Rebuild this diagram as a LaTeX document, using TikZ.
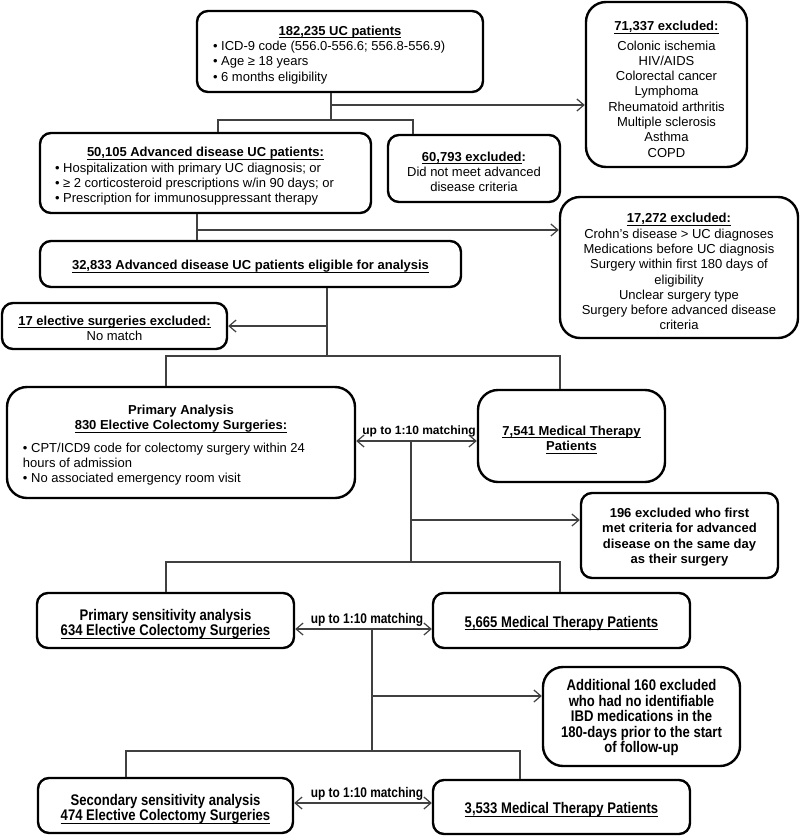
\documentclass[tikz,border=0pt]{standalone}
\usepackage{fontspec}
\setmainfont{Liberation Sans}
\newfontfamily\nf[FakeStretch=0.85]{Liberation Sans}
\usetikzlibrary{arrows.meta}
\newsavebox\myulbox
\newcommand{\myul}[1]{\sbox\myulbox{#1}\rlap{\vrule width\wd\myulbox height -2pt depth 3pt}\usebox\myulbox}
\newcommand{\st}[1]{\rule{0pt}{#1pt}}
\newcommand{\fs}{\fontsize{13}{15.3}\selectfont}
\newcommand{\nfs}{\nf\fontsize{15.4}{15.5}\selectfont}
\tikzset{
  box/.style={draw=black, line width=2.4pt, rounded corners=11pt, inner sep=0pt, align=center, font=\fs},
  bigr/.style={rounded corners=20pt},
  sz/.style 2 args={minimum width=#1pt, minimum height=#2pt},
  conn/.style={draw=black!75, line width=1.2pt},
  arr/.style={conn, -{Straight Barb[length=7pt,width=12pt]}},
  darr/.style={conn, {Straight Barb[length=7pt,width=12pt]}-{Straight Barb[length=7pt,width=12pt]}},
  lbl/.style={inner sep=0pt, font=\fontsize{12}{14}\selectfont\bfseries},
  nlbl/.style={inner sep=0pt, font=\nf\fontsize{14}{16}\selectfont\bfseries},
}
\begin{document}
\begin{tikzpicture}[x=1pt,y=-1pt]
\useasboundingbox (0,0) rectangle (800,836);
\fill[white] (0,0) rectangle (800,836);

% boxes
\node[box, sz={286}{81}] (b1) at (340,51.5) {\st{16}\textbf{\myul{182,235 UC patients}}\\
  \parbox[t]{254pt}{• ICD-9 code (556.0-556.6; 556.8-556.9)\\ • Age ≥ 18 years\\ • 6 months eligibility}};
\node[box, bigr, sz={161}{165}] (bx1) at (666.5,84.5) {\st{19}\textbf{\myul{71,337 excluded:}}\\[4pt]
  Colonic ischemia\\ HIV/AIDS\\ Colorectal cancer\\ Lymphoma\\ Rheumatoid arthritis\\ Multiple sclerosis\\ Asthma\\ COPD};
\node[box, sz={331}{80}] (b2) at (205.5,173) {\st{16}\textbf{\myul{50,105 Advanced disease UC patients:}}\\
  \parbox[t]{301pt}{• Hospitalization with primary UC diagnosis; or\\ • ≥ 2 corticosteroid prescriptions w/in 90 days; or\\ • Prescription for immunosuppressant therapy}};
\node[box, sz={172}{67}] (bx2) at (474,168.5) {\st{16}\textbf{\myul{60,793 excluded}:}\\ Did not meet advanced\\ disease criteria};
\node[box, sz={421}{46}] (b3) at (250.5,264) {\st{14}\textbf{\myul{32,833 Advanced disease UC patients eligible for analysis}}};
\node[box, bigr, sz={238}{141}] (bx3) at (679,267.5) {\st{18}\textbf{\myul{17,272 excluded:}}\\ Crohn's disease > UC diagnoses\\ Medications before UC diagnosis\\ Surgery within first 180 days of\\ eligibility\\ Unclear surgery type\\ Surgery before advanced disease\\ criteria};
\node[box, sz={225}{46}] (bx4) at (114.5,326) {\st{14}\textbf{\myul{17 elective surgeries excluded:}}\\ No match};
\node[box, bigr, sz={348}{111}] (b4) at (181,442.5) {\st{15}\textbf{Primary Analysis}\\ \textbf{\myul{830 Elective Colectomy Surgeries:}}\\[7pt]
  \parbox[t]{316pt}{• CPT/ICD9 code for colectomy surgery within 24\\ hours of admission\\ • No associated emergency room visit}};
\node[box, bigr, sz={187}{92}] (m1) at (571.5,436) {\st{17}\textbf{\myul{7,541 Medical Therapy}}\\ \textbf{\myul{Patients}}};
\node[box, sz={197}{85}, font=\fs\bfseries] (bx5) at (679.5,535.5) {\st{13}196 excluded who first\\ met criteria for advanced\\ disease on the same day\\ as their surgery};
\node[box, sz={257}{55}, font=\nfs\bfseries] (b5) at (165.5,620.5) {\st{18}Primary sensitivity analysis\\ \myul{634 Elective Colectomy Surgeries}};
\node[box, sz={257}{55}, font=\nfs\bfseries] (m2) at (561.5,620.5) {\st{17}\myul{5,665 Medical Therapy Patients}};
\node[box, bigr, sz={197}{99}, font=\nfs\bfseries] (bx6) at (641.5,716.5) {\st{14}Additional 160 excluded\\ who had no identifiable\\ IBD medications in the\\ 180-days prior to the start\\ of follow-up};
\node[box, sz={255}{55}, font=\nfs\bfseries] (b6) at (165.5,805.5) {\st{18}Secondary sensitivity analysis\\ \myul{474 Elective Colectomy Surgeries}};
\node[box, sz={257}{54}, font=\nfs\bfseries] (m3) at (561.5,807) {\st{17}\myul{3,533 Medical Therapy Patients}};

% labels
\node[lbl, anchor=base] (l1) at (419,434) {up to 1:10 matching};
\node[nlbl, anchor=base] (l2) at (367,623) {up to 1:10 matching};
\node[nlbl, anchor=base] (l3) at (367,797) {up to 1:10 matching};

% junction coordinates
\coordinate (t1) at (331,105);
\coordinate (t2) at (331,120);
\coordinate (t2l) at (218,120);
\coordinate (t2r) at (413,120);
\coordinate (s1) at (197,230);
\coordinate (u1) at (327,326);
\coordinate (u2) at (327,356);
\coordinate (u2l) at (166,356);
\coordinate (u2r) at (560,356);
\coordinate (v0) at (411,441);
\coordinate (v1) at (411,520);
\coordinate (v2) at (411,562);
\coordinate (v2l) at (166,562);
\coordinate (v2r) at (560,562);
\coordinate (w0) at (372,629);
\coordinate (w1) at (372,696);
\coordinate (w2) at (372,751);
\coordinate (w2l) at (126,751);
\coordinate (w2r) at (520,751);
\coordinate (x0) at (372,803);

% connectors
\draw[conn] (b1.south -| t1) -- (t2);
\draw[arr] (t1) -- (bx1.west |- t1);
\draw[conn] (b2.north -| t2l) -- (t2l) -- (t2r) -- (bx2.north -| t2r);

\draw[conn] (b2.south -| s1) -- (b3.north -| s1);
\draw[arr] (s1) -- (bx3.west |- s1);

\draw[conn] (b3.south -| u1) -- (u2);
\draw[arr] (u1) -- (bx4.east |- u1);
\draw[conn] (b4.north -| u2l) -- (u2l) -- (u2r) -- (m1.north -| u2r);

\draw[darr] (b4.east |- v0) -- (m1.west |- v0);
\draw[conn] (v0) -- (v2);
\draw[arr] (v1) -- (bx5.west |- v1);
\draw[conn] (b5.north -| v2l) -- (v2l) -- (v2r) -- (m2.north -| v2r);

\draw[darr] (b5.east |- w0) -- (m2.west |- w0);
\draw[conn] (w0) -- (w2);
\draw[arr] (w1) -- (bx6.west |- w1);
\draw[conn] (b6.north -| w2l) -- (w2l) -- (w2r) -- (m3.north -| w2r);

\draw[darr] (b6.east |- x0) -- (m3.west |- x0);
\end{tikzpicture}
\end{document}
